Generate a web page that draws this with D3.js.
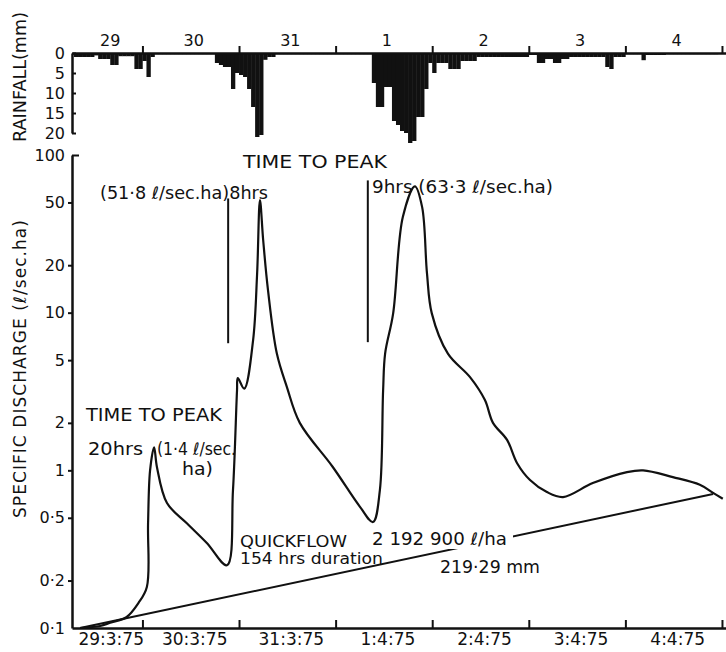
<!DOCTYPE html>
<html>
<head>
<meta charset="utf-8">
<script src="https://cdn.jsdelivr.net/npm/d3@7"></script>
<style>
  body { margin: 0; background: #fff; }
  svg text { font-family: "DejaVu Sans", "Liberation Sans", sans-serif; fill: #111; }
</style>
</head>
<body>
<div id="chart"></div>
<script>
// all times are hours counted from 00:00 on 29.3.75

// day boundaries and their labels
const dayStarts = [24, 48, 72, 96, 120, 144, 168];
const dayTopLabels = ["29", "30", "31", "1", "2", "3", "4"];
const dayBottomLabels = ["29:3:75", "30:3:75", "31:3:75", "1:4:75", "2:4:75", "3:4:75", "4:4:75"];

// hourly rainfall (mm), first bar starts at hour 7
const rainStartHour = 7;
const rainMm = [
  1, 1, 1, 1, 1, 0.6, 1.5, 1.5, 1.5, 3,
  3, 0.8, 0.8, 0.8, 0.8, 4, 4, 2, 6, 1,
  0.3, 0.3, 0.3, 0.3, 0.3, 0.3, 0.3, 0.3, 0.3, 0.3,
  0.3, 0.3, 0.3, 0.3, 0.3, 2.5, 3, 3.5, 3.5, 9,
  5, 5.5, 6, 9, 13.5, 21, 20.5, 1.7, 1, 1,
  0.3, 0.3, 0.3, 0.3, 0.3, 0.3, 0.3, 0.3, 0.3, 0.3,
  0.3, 0.3, 0.3, 0.3, 0.3, 0.3, 0.3, 0.3, 0.3, 0.3,
  0.3, 0.3, 0.3, 0.3, 7.5, 13.5, 13.5, 8.5, 8.5, 17,
  18, 19.5, 20, 22.5, 22, 16, 16, 9, 2.5, 5,
  2.5, 2.5, 2.5, 4, 4, 4, 2, 2, 2, 2,
  1, 1, 1, 1, 1, 1, 1, 1, 1, 1,
  1, 1, 1, 0.5, 0.5, 2.5, 2.5, 1.5, 1.5, 2.5,
  2.5, 1.5, 1.5, 1, 1, 1, 1, 1, 1, 1,
  1, 1, 3.5, 4, 1, 1, 1, 0.3, 0.3, 0.3,
  0.3, 1.8, 0.5, 0.5, 0.5, 0.5, 0.5, 0.3, 0.3, 0.3,
  0.3, 0.3, 0.3, 0.3, 0.3, 0.3, 0.3, 0.3, 0.3, 0.3
];
const rainTicks = [0, 5, 10, 15, 20];

// specific discharge hydrograph (l/sec.ha)
const hydroHour = [8.5, 13.5, 16, 20, 23, 25.1, 25.4, 25.9, 26.9, 27.6, 30.1, 35.1, 40.0, 45.0,
  46.5, 47.5, 47.7, 49.3, 51.5, 52.5, 53.2, 54.0, 55.2, 57.4, 59.9, 63.1, 71.3, 78.1, 81.3,
  83.0, 83.8, 84.3, 86.3, 88.7, 91.7, 93.5, 94.7, 95.9, 99.9, 105.4, 109.1, 111.1, 114.6,
  117.1, 120.3, 124.5, 128.5, 135.9, 144.4, 148.4, 155.8, 162.5, 165.8, 168.2];
const hydroQ = [0.1, 0.103, 0.108, 0.117, 0.144, 0.182, 0.46, 1.0, 1.4, 1.05, 0.62, 0.46, 0.346, 0.25,
  0.75, 3.2, 3.85, 3.3, 6.7, 17.8, 51.8, 28.9, 13.9, 5.5, 3.37, 2.0, 1.05, 0.585, 0.47,
  0.75, 3.2, 5.5, 9.9, 40.4, 63.3, 46.7, 17.8, 9.9, 5.5, 3.9, 2.79, 2.0, 1.56,
  1.11, 0.868, 0.728, 0.677, 0.83, 0.975, 1.0, 0.906, 0.81, 0.72, 0.66];

// baseflow separation line
const baseHour = [8.5, 165.8];
const baseQ = [0.1, 0.708];

// start-of-rise markers for "time to peak"
const markerHour = [45.3, 80.0];
const markerLow = [6.4, 6.5];
const markerHigh = [53, 69];

const qTicks = [0.1, 0.2, 0.5, 1, 2, 5, 10, 20, 50, 100];

// --- scales ---
const width = 726, height = 652;
const x = d3.scaleLinear().domain([6.5, 169]).range([72, 726]);
const yQ = d3.scaleLog().domain([0.1, 100]).range([628, 155]);
const yR = d3.scaleLinear().domain([0, 20]).range([53, 133]);

const svg = d3.select("#chart").append("svg")
    .attr("width", width)
    .attr("height", height);

const fmtDot = d => String(d).replace(".", "·");

// --- rainfall bars (hanging down from the top axis) ---
const rainData = rainMm.map((v, i) => ({ h: rainStartHour + i, mm: v }));
svg.append("g").selectAll("rect")
  .data(rainData)
  .join("rect")
    .attr("x", d => x(d.h))
    .attr("width", d => x(d.h + 1) - x(d.h) + 0.3)
    .attr("y", yR(0))
    .attr("height", d => yR(d.mm) - yR(0))
    .attr("fill", "#111");

// top time axis (rainfall baseline)
const topAxis = svg.append("g")
    .attr("transform", `translate(0,${yR(0)})`)
    .call(d3.axisTop(x).tickValues(dayStarts).tickSize(7).tickSizeOuter(0).tickFormat(""));

// rainfall depth axis
const rainAxis = svg.append("g")
    .attr("transform", `translate(${x.range()[0]},0)`)
    .call(d3.axisLeft(yR).tickValues(rainTicks).tickSize(-4).tickPadding(7).tickSizeOuter(0));
rainAxis.selectAll(".tick text").style("font-size", "16px");

// day labels centred on the visible part of each day
function dayCentre(i) {
  const a = Math.max(dayStarts[i] - 24, x.domain()[0]);
  const b = Math.min(dayStarts[i], x.domain()[1]);
  return x((a + b) / 2);
}
svg.append("g").selectAll("text")
  .data(dayTopLabels)
  .join("text")
    .attr("x", (d, i) => dayCentre(i) + 3)
    .attr("y", 46)
    .attr("text-anchor", "middle")
    .style("font-size", "16px")
    .text(d => d);

// --- discharge axis (log) ---
const qAxis = svg.append("g")
    .attr("transform", `translate(${x.range()[0]},0)`)
    .call(d3.axisLeft(yQ).tickValues(qTicks).tickFormat(fmtDot).tickSize(4).tickPadding(3).tickSizeOuter(0));
qAxis.selectAll(".tick text").style("font-size", "16px");
// the 100 tick points inward
qAxis.selectAll(".tick").filter(d => d === 100).select("line").attr("x2", 7);
qAxis.selectAll(".tick").filter(d => d === 0.1).select("line").remove();

// bottom date axis
const bottomAxis = svg.append("g")
    .attr("transform", `translate(0,${yQ.range()[0]})`)
    .call(d3.axisBottom(x).tickValues(dayStarts).tickSize(-8).tickSizeOuter(0).tickFormat(""));

svg.append("g").selectAll("text")
  .data(dayBottomLabels)
  .join("text")
    .attr("x", (d, i) => dayCentre(i) + 4)
    .attr("y", 645)
    .attr("text-anchor", "middle")
    .style("font-size", "17px")
    .text(d => d);

[topAxis, rainAxis, qAxis, bottomAxis].forEach(g => {
  g.select(".domain").attr("stroke", "#111").attr("stroke-width", 2.5);
  g.selectAll(".tick line").attr("stroke", "#111").attr("stroke-width", 2);
  g.selectAll(".tick text").attr("fill", "#111");
});

// --- hydrograph and baseflow ---
const baseLine = d3.line()
    .x(d => x(d[0]))
    .y(d => yQ(d[1]));

const hydroLine = d3.line()
    .x(d => x(d[0]))
    .y(d => yQ(d[1]))
    .curve(d3.curveCatmullRom.alpha(0.5));

svg.append("path")
    .datum(baseHour.map((h, i) => [h, baseQ[i]]))
    .attr("d", baseLine)
    .attr("fill", "none")
    .attr("stroke", "#111")
    .attr("stroke-width", 2);

svg.append("path")
    .datum(hydroHour.map((h, i) => [h, hydroQ[i]]))
    .attr("d", hydroLine)
    .attr("fill", "none")
    .attr("stroke", "#111")
    .attr("stroke-width", 2.2)
    .attr("stroke-linejoin", "round");

// time-to-peak start markers
svg.append("g").selectAll("line")
  .data(markerHour)
  .join("line")
    .attr("x1", d => x(d))
    .attr("x2", d => x(d))
    .attr("y1", (d, i) => yQ(markerLow[i]))
    .attr("y2", (d, i) => yQ(markerHigh[i]))
    .attr("stroke", "#111")
    .attr("stroke-width", 2);

// --- annotations ---
const notes = [
  { t: "TIME  TO  PEAK", x: 243, y: 168, len: 144, fs: 17 },
  { t: "(51·8 ℓ/sec.ha)8hrs", x: 100, y: 199, len: 168, fs: 17 },
  { t: "9hrs (63·3 ℓ/sec.ha)", x: 372, y: 193, len: 181, fs: 17 },
  { t: "TIME TO PEAK", x: 86, y: 421, len: 136, fs: 17 },
  { t: "20hrs", x: 88, y: 455, len: 55, fs: 17 },
  { t: "(1·4 ℓ/sec.", x: 157, y: 455, len: 79, fs: 17 },
  { t: "ha)", x: 182, y: 475, len: 31, fs: 17 },
  { t: "QUICKFLOW", x: 240, y: 547, len: 107, fs: 15 },
  { t: "154 hrs duration", x: 240, y: 564, len: 143, fs: 15 },
  { t: "2 192 900 ℓ/ha", x: 372, y: 545, len: 135, fs: 17, bg: true },
  { t: "219·29 mm", x: 440, y: 573, len: 100, fs: 17 }
];

notes.filter(d => d.bg).forEach(d => {
  svg.append("rect")
      .attr("x", d.x - 3)
      .attr("y", d.y - 15)
      .attr("width", d.len + 9)
      .attr("height", 19)
      .attr("fill", "#fff");
});

svg.append("g").selectAll("text")
  .data(notes)
  .join("text")
    .attr("x", d => d.x)
    .attr("y", d => d.y)
    .attr("textLength", d => d.len)
    .attr("lengthAdjust", "spacingAndGlyphs")
    .style("font-size", d => d.fs + "px")
    .text(d => d.t);

// rotated axis titles
svg.append("text")
    .attr("transform", "translate(26,77) rotate(-90)")
    .attr("text-anchor", "middle")
    .attr("textLength", 130)
    .attr("lengthAdjust", "spacingAndGlyphs")
    .style("font-size", "18px")
    .text("RAINFALL(mm)");

svg.append("text")
    .attr("transform", "translate(26,369) rotate(-90)")
    .attr("text-anchor", "middle")
    .attr("textLength", 298)
    .attr("lengthAdjust", "spacing")
    .style("font-size", "17px")
    .text("SPECIFIC  DISCHARGE (ℓ/sec.ha)");
</script>
</body>
</html>
